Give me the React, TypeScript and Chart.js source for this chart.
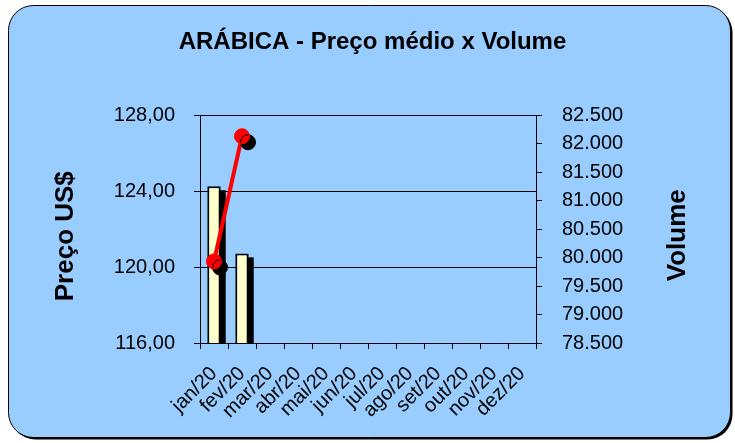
import React, { useEffect, useRef } from 'react';
import { Chart, registerables } from 'chart.js';

Chart.register(...registerables);

const months = ['jan/20', 'fev/20', 'mar/20', 'abr/20', 'mai/20', 'jun/20', 'jul/20', 'ago/20', 'set/20', 'out/20', 'nov/20', 'dez/20'];
const volume = [81255, 80075, null, null, null, null, null, null, null, null, null, null];
const price = [120.3, 126.9, null, null, null, null, null, null, null, null, null, null];

const priceMin = 116;
const priceMax = 128;
const priceStep = 4;
const volMin = 78500;
const volMax = 82500;
const volStep = 500;

const titleText = 'ARÁBICA - Preço médio x Volume';
const leftTitle = 'Preço US$';
const rightTitle = 'Volume';

const FONT = '"Liberation Sans", Arial, sans-serif';

function fmtPrice(v: number) {
  return v.toFixed(2).replace('.', ',');
}
function fmtVol(v: number) {
  return Math.round(v).toString().replace(/\B(?=(\d{3})+(?!\d))/g, '.');
}

function roundRect(ctx: CanvasRenderingContext2D, x: number, y: number, w: number, h: number, r: number) {
  ctx.beginPath();
  ctx.moveTo(x + r, y);
  ctx.lineTo(x + w - r, y);
  ctx.arcTo(x + w, y, x + w, y + r, r);
  ctx.lineTo(x + w, y + h - r);
  ctx.arcTo(x + w, y + h, x + w - r, y + h, r);
  ctx.lineTo(x + r, y + h);
  ctx.arcTo(x, y + h, x, y + h - r, r);
  ctx.lineTo(x, y + r);
  ctx.arcTo(x, y, x + r, y, r);
  ctx.closePath();
}

const bgPlugin = {
  id: 'bgBox',
  beforeDraw(chart: any) {
    const ctx = chart.ctx as CanvasRenderingContext2D;
    ctx.save();
    roundRect(ctx, 10.5, 7.5, 722, 432, 25);
    ctx.fillStyle = '#000';
    ctx.fill();
    roundRect(ctx, 8.5, 5.5, 722, 432, 25);
    ctx.fillStyle = '#99CCFF';
    ctx.fill();
    ctx.lineWidth = 1;
    ctx.strokeStyle = '#000';
    ctx.stroke();
    ctx.restore();
  },
};

const axisTitlePlugin = {
  id: 'axisTitles',
  afterDraw(chart: any) {
    const ctx = chart.ctx as CanvasRenderingContext2D;
    const area = chart.chartArea;
    const cy = (area.top + area.bottom) / 2 + 7;
    ctx.save();
    ctx.fillStyle = '#000';
    ctx.font = `bold 26px ${FONT}`;
    ctx.textAlign = 'center';
    ctx.textBaseline = 'alphabetic';
    ctx.save();
    ctx.translate(73, cy);
    ctx.rotate(-Math.PI / 2);
    ctx.fillText(leftTitle, 0, 0);
    ctx.restore();
    ctx.save();
    ctx.translate(685, cy - 1);
    ctx.rotate(-Math.PI / 2);
    ctx.fillText(rightTitle, 0, 0);
    ctx.restore();
    ctx.restore();
  },
};

// Shadows: bars get a black offset copy of each bar element, points use canvas shadow.
const shadowPlugin = {
  id: 'dsShadow',
  beforeDatasetDraw(chart: any, args: any) {
    const ds = chart.data.datasets[args.index] as any;
    if (!ds.shadow) return;
    const ctx = chart.ctx as CanvasRenderingContext2D;
    const [dx, dy] = ds.shadow;
    if (ds.type === 'bar') {
      const area = chart.chartArea;
      ctx.save();
      ctx.beginPath();
      ctx.rect(area.left, area.top, area.right - area.left, area.bottom - area.top);
      ctx.clip();
      ctx.fillStyle = '#000';
      args.meta.data.forEach((el: any, i: number) => {
        if (ds.data[i] == null) return;
        const p = el.getProps(['x', 'y', 'base', 'width'], true);
        ctx.fillRect(p.x - p.width / 2 + dx, p.y + dy, p.width, p.base - p.y);
      });
      ctx.restore();
      return;
    }
    ctx.save();
    ctx.shadowColor = '#000';
    ctx.shadowBlur = 0;
    ctx.shadowOffsetX = dx;
    ctx.shadowOffsetY = dy;
  },
  afterDatasetDraw(chart: any, args: any) {
    const ds = chart.data.datasets[args.index] as any;
    if (!ds.shadow || ds.type === 'bar') return;
    chart.ctx.restore();
  },
};

export default function App() {
  const ref = useRef<HTMLCanvasElement | null>(null);

  useEffect(() => {
    if (!ref.current) return;
    const chart = new Chart(ref.current, {
      type: 'bar',
      data: {
        labels: months,
        datasets: [
          {
            type: 'line',
            label: 'Preço points',
            data: price,
            yAxisID: 'y',
            showLine: false,
            pointRadius: 7.5,
            pointBackgroundColor: '#FF0000',
            pointBorderColor: '#FF0000',
            pointBorderWidth: 1,
            order: 1,
            shadow: [6, 6],
          } as any,
          {
            type: 'line',
            label: 'Preço',
            data: price,
            yAxisID: 'y',
            borderColor: '#FF0000',
            borderWidth: 4,
            pointRadius: 0,
            order: 2,
          } as any,
          {
            type: 'bar',
            label: 'Volume',
            data: volume,
            yAxisID: 'y1',
            backgroundColor: '#FFFFCC',
            borderColor: '#000',
            borderWidth: 2,
            borderSkipped: false,
            categoryPercentage: 1,
            barPercentage: 0.48,
            order: 3,
            shadow: [5, 4],
          } as any,
        ],
      },
      options: {
        responsive: false,
        animation: false,
        layout: { padding: { left: 10, right: 0, top: 0, bottom: 0 } },
        plugins: {
          legend: { display: false },
          tooltip: { enabled: false },
          title: {
            display: true,
            text: titleText,
            color: '#000',
            font: { family: FONT, size: 24, weight: 'bold', lineHeight: 1.2 },
            padding: { top: 27.6, bottom: 59 },
          },
        },
        scales: {
          x: {
            offset: true,
            grid: { offset: true, drawOnChartArea: false, drawTicks: true, tickLength: 6, color: '#000' },
            border: { display: true, color: '#000', width: 1 },
            ticks: {
              autoSkip: false,
              maxRotation: 45,
              minRotation: 45,
              labelOffset: 0,
              padding: 13,
              color: '#000',
              font: { family: FONT, size: 20 },
            },
            afterFit: (s: any) => { s.height = 100; },
          },
          y: {
            position: 'left',
            min: priceMin,
            max: priceMax,
            grid: { color: '#000', lineWidth: 1, tickLength: 6, drawTicks: true },
            border: { display: true, color: '#000', width: 1 },
            ticks: {
              stepSize: priceStep,
              padding: 19,
              color: '#000',
              font: { family: FONT, size: 20 },
              callback: (v: any) => fmtPrice(Number(v)),
            },
            afterFit: (s: any) => { s.width = 190; },
          },
          y1: {
            position: 'right',
            min: volMin,
            max: volMax,
            grid: { drawOnChartArea: false, color: '#000', tickLength: 6, drawTicks: true },
            border: { display: true, color: '#000', width: 1 },
            ticks: {
              stepSize: volStep,
              padding: 20,
              color: '#000',
              font: { family: FONT, size: 20 },
              callback: (v: any) => fmtVol(Number(v)),
            },
            afterFit: (s: any) => { s.width = 199; },
          },
        },
      } as any,
      plugins: [bgPlugin, shadowPlugin, axisTitlePlugin],
    });
    return () => chart.destroy();
  }, []);

  return (
    <div style={{ position: 'absolute', left: 0, top: 0, width: 735, height: 443 }}>
      <canvas ref={ref} width={735} height={443} style={{ display: 'block' }} />
    </div>
  );
}
